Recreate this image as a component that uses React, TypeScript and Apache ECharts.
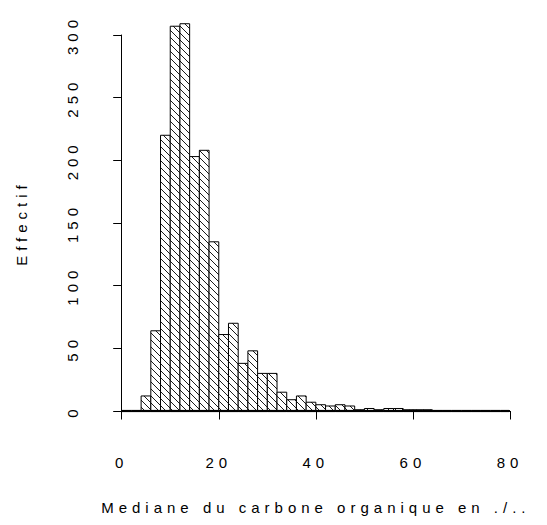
import React, { useEffect, useRef } from "react";
import * as echarts from "echarts";

// Histogram bins (left edges, width 2) and counts
const binStart = [0, 2, 4, 6, 8, 10, 12, 14, 16, 18, 20, 22, 24, 26, 28, 30, 32, 34, 36, 38,
  40, 42, 44, 46, 48, 50, 52, 54, 56, 58, 60, 62, 64, 66, 68, 70, 72, 74, 76, 78];
const binWidth = 2;
const counts = [0, 0, 12, 64, 220, 307, 309, 203, 208, 135, 61, 70, 38, 48, 30, 30, 15, 9, 12, 7,
  5, 4, 5, 4, 1, 2, 1, 2, 2, 1, 1, 1, 0, 0, 0, 0, 0, 0, 0, 0];
const xTicks = [0, 20, 40, 60, 80];
const yTicks = [0, 50, 100, 150, 200, 250, 300];
const xTitle = "Mediane du carbone organique en ./..";
const yTitle = "Effectif";

const FONT = "'Liberation Sans', Arial, Helvetica, sans-serif";

export default function App() {
  const ref = useRef<HTMLDivElement>(null);
  useEffect(() => {
    if (!ref.current) return;
    const chart = echarts.init(ref.current, undefined, { renderer: "svg" });
    const data = binStart.map((s, i) => [s, s + binWidth, counts[i]]);
    const hatch = 7;
    chart.setOption({
      animation: false,
      backgroundColor: "#ffffff",
      grid: { left: 121.7, right: 37, top: 35, bottom: 114, containLabel: false },
      xAxis: {
        type: "value",
        min: xTicks[0],
        max: xTicks[xTicks.length - 1],
        interval: 20,
        offset: 15.7,
        axisLine: { show: true, lineStyle: { color: "#000", width: 1 } },
        axisTick: { show: true, length: 8.5, inside: false, lineStyle: { color: "#000", width: 1 } },
        axisLabel: {
          color: "#000", fontSize: 15, fontFamily: FONT, margin: 28,
          formatter: (v: number) => String(v),
        },
        splitLine: { show: false },
        name: xTitle,
        nameLocation: "middle",
        nameGap: 73,
        nameTextStyle: { color: "#000", fontSize: 15, fontFamily: FONT },
      },
      yAxis: {
        type: "value",
        min: yTicks[0],
        max: yTicks[yTicks.length - 1],
        interval: 50,
        offset: 15.2,
        axisLine: { show: true, lineStyle: { color: "#000", width: 1 } },
        axisTick: { show: true, length: 8.5, inside: false, lineStyle: { color: "#000", width: 1 } },
        axisLabel: {
          color: "#000", fontSize: 15, fontFamily: FONT, margin: 27, rotate: 90,
        },
        splitLine: { show: false },
        name: yTitle,
        nameLocation: "middle",
        nameRotate: 90,
        nameGap: 78,
        nameTextStyle: { color: "#000", fontSize: 15, fontFamily: FONT },
      },
      series: [
        {
          type: "custom",
          clip: false,
          data,
          encode: { x: [0, 1], y: 2 },
          renderItem: (params: any, api: any) => {
            const p0 = api.coord([api.value(0), 0]);
            const p1 = api.coord([api.value(1), api.value(2)]);
            const left = p0[0], right = p1[0], bottom = p0[1], top = p1[1];
            const children: any[] = [
              {
                type: "rect",
                shape: { x: left, y: top, width: right - left, height: bottom - top },
                style: { fill: "#fff", stroke: "#000", lineWidth: 1 },
              },
            ];
            if (bottom - top > 0.5) {
              const kMin = Math.ceil((top - right) / hatch);
              const kMax = Math.floor((bottom - left) / hatch);
              for (let k = kMin; k <= kMax; k++) {
                const c = k * hatch;
                const xa = Math.max(left, top - c);
                const xb = Math.min(right, bottom - c);
                if (xb - xa > 0.2) {
                  children.push({
                    type: "line",
                    shape: { x1: xa, y1: xa + c, x2: xb, y2: xb + c },
                    style: { stroke: "#000", lineWidth: 0.9 },
                  });
                }
              }
            }
            children.push({
              type: "line",
              shape: { x1: left, y1: bottom, x2: right, y2: bottom },
              style: { stroke: "#000", lineWidth: 2.2 },
            });
            return { type: "group", children };
          },
        },
      ],
    });
    return () => chart.dispose();
  }, []);
  return (
    <>
      <style>{`.rchart text { letter-spacing: 5px; }`}</style>
      <div
        ref={ref}
        className="rchart"
        style={{ position: "fixed", left: 0, top: 0, width: 547, height: 525, background: "#fff" }}
      />
    </>
  );
}
